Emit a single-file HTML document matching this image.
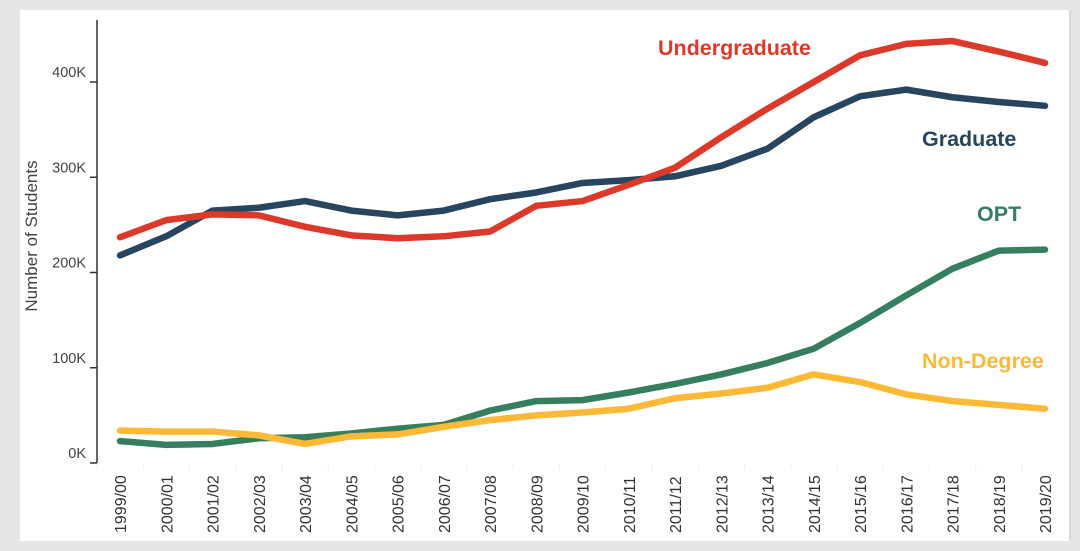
<!DOCTYPE html>
<html><head><meta charset="utf-8"><style>
body{margin:0;width:1080px;height:551px;background:#e6e6e6;font-family:"Liberation Sans",sans-serif;overflow:hidden}
#panel{position:absolute;left:20px;top:10px;width:1049px;height:531px;background:#fff;border-right:2px solid #d8d8d8}
svg{position:absolute;left:0;top:0}
</style></head><body>
<div id="panel"></div>
<svg width="1080" height="551" id="chart"></svg>
<script>
const categories=["1999/00","2000/01","2001/02","2002/03","2003/04","2004/05","2005/06","2006/07","2007/08","2008/09","2009/10","2010/11","2011/12","2012/13","2013/14","2014/15","2015/16","2016/17","2017/18","2018/19","2019/20"];
const undergraduate=[237,255,261,260,248,239,236,238,243,270,275,292,310,342,372,400,428,440,443,432,420];
const graduate=[218,238,265,268,275,265,260,265,277,284,294,297,301,312,330,363,385,392,384,379,375];
const opt=[23,19,20,26,27,31,36,40,55,65,66,74,83,93,105,120,147,176,204,223,224];
const nonDegree=[34,33,33,29,20,28,30,38,45,50,53,57,68,73,79,93,85,72,65,61,57];
const yTicks=[0,100,200,300,400];
const yTickLabels=["0K","100K","200K","300K","400K"];
const svg=document.getElementById('chart');const NS="http://www.w3.org/2000/svg";
const x=i=>120+i*46.25;const y=v=>463-v*0.9525;
function mk(t,a,p){const e=document.createElementNS(NS,t);for(const k in a)e.setAttribute(k,a[k]);(p||svg).appendChild(e);return e;}
let ax=mk('line',{x1:97,y1:20,x2:97,y2:463,stroke:'#333','stroke-width':1.5});


yTicks.forEach((v,i)=>{
 const t=mk('line',{x1:90,x2:97,y1:y(v),y2:y(v),stroke:'#333','stroke-width':1.5});
 
 
 const l=mk('text',{x:86,y:y(v)-5,'text-anchor':'end','font-size':14.5,fill:'#444'});l.textContent=yTickLabels[i];
 
 
});
const yt=mk('text',{transform:'translate(37,236) rotate(-90)','text-anchor':'middle','font-size':17,fill:'#444'});yt.textContent='Number of Students';


categories.forEach((c,i)=>{
 const tk=mk('line',{x1:x(i)-23,x2:x(i)-23,y1:464,y2:470,stroke:'#eee'});
 
 
 const l=mk('text',{transform:`translate(${x(i)+6},${533}) rotate(-90)`,'font-size':16,fill:'#333'});l.textContent=c;
 
 
});
const series=[[opt,'#367f5e','opt-line'],[nonDegree,'#fbb935','non-degree-line'],[graduate,'#27455f','graduate-line'],[undergraduate,'#dd392b','undergraduate-line']];
series.forEach(([d,c,n])=>{
 const p=mk('polyline',{points:d.map((v,i)=>x(i)+','+y(v)).join(' '),fill:'none',stroke:c,'stroke-width':6.5,'stroke-linecap':'round','stroke-linejoin':'round'});
 
 
});
const labels=[['Undergraduate',658,55,'#dd392b','undergraduate-label'],['Graduate',922,146,'#27455f','graduate-label'],['OPT',977,221,'#367f5e','opt-label'],['Non-Degree',922,368,'#fbb935','non-degree-label']];
labels.forEach(([t,lx,ly,c,n])=>{
 const e=mk('text',{x:lx,y:ly,'font-size':21.5,'font-weight':'bold',fill:c});e.textContent=t;
 
 
});
</script>
</body></html>
